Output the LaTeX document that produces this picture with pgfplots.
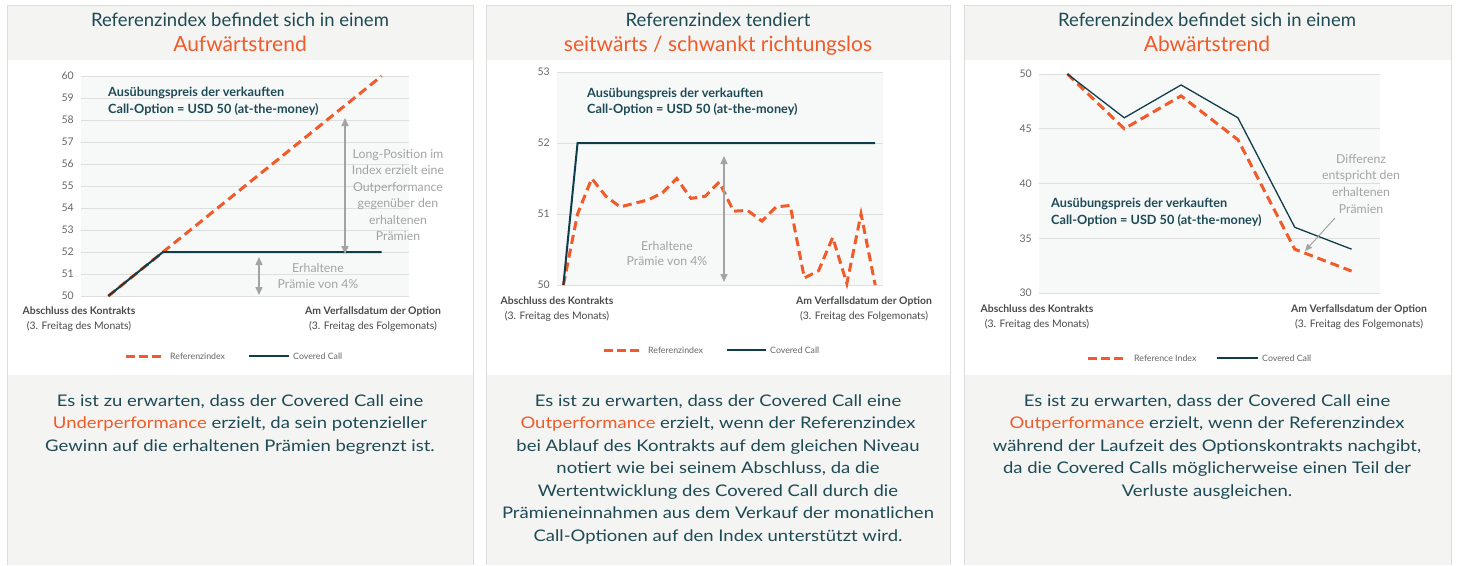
\documentclass[border=0pt]{standalone}
\usepackage{pgfplots}
\pgfplotsset{compat=1.18}
\usetikzlibrary{arrows.meta}
\usepackage{fontspec}
\setmainfont{Lato}
\newfontfamily\bodyfont[FakeStretch=1.155]{Lato}
\definecolor{orng}{HTML}{F15A29}
\definecolor{cteal}{HTML}{0F3D4A}
\definecolor{titlecol}{HTML}{1D4A55}
\definecolor{hdr}{HTML}{F4F4F2}
\definecolor{brd}{HTML}{DCDCDC}
\definecolor{plotbg}{HTML}{F7F9F9}
\definecolor{grd}{HTML}{DEDEDE}
\definecolor{annot}{HTML}{A3A3A3}
\definecolor{lbl}{HTML}{4A4A4A}
\definecolor{tickc}{HTML}{666666}
\newcommand\fs[1]{\fontsize{#1pt}{#1pt}\selectfont}
\pgfplotsset{panel/.style={scale only axis, clip=false, axis line style={draw=none},
  major tick length=0pt, xtick=\empty, ymajorgrids, grid style={grd, line width=0.8pt},
  axis background/.style={fill=plotbg},
  yticklabel style={font=\fs{10.5}, text=tickc, inner sep=0pt, xshift=-7pt},
  /pgf/number format/assume math mode=true, anchor=south west},
  refl/.style={orng, line width=3pt, dash pattern=on 9pt off 5pt},
  ccl/.style={cteal, line width=2pt}}
\begin{document}
\begin{tikzpicture}
\begin{scope}[x=1pt,y=-1pt]
\fill[white] (0,0) rectangle (1459,565);
\foreach \L/\R in {7/473,486/950,964/1451}{
  \fill[hdr] (\L,5) rectangle (\R,60);
  \fill[hdr] (\L,375) rectangle (\R,565);
  \draw[brd, line width=1pt] (\L,565) -- (\L,5) -- (\R,5) -- (\R,565);
}
\end{scope}
% Panel 1
\begin{axis}[panel, at={(81pt,-296pt)}, width=328pt, height=220pt,
  xmin=-1, xmax=11, ymin=50, ymax=60, ytick={50,51,...,60}]
\addplot[refl] coordinates {(0,50) (10,60)};
\addplot[ccl] coordinates {(0,50) (2,52) (10,52)};
\end{axis}
% Panel 2
\begin{axis}[panel, at={(557pt,-285pt)}, width=326pt, height=213pt,
  xmin=-0.45, xmax=22.55, ymin=50, ymax=53, ytick={50,51,52,53}]
\addplot[refl] coordinates {(0,50) (1,51.0) (2,51.5) (3,51.25) (4,51.1) (5,51.15)
  (6,51.2) (7,51.3) (8,51.5) (9,51.22) (10,51.25) (11,51.45) (12,51.04) (13,51.05)
  (14,50.9) (15,51.1) (16,51.12) (17,50.1) (18,50.2) (19,50.67) (20,50.02) (21,51.0) (22,50.0)};
\addplot[ccl] coordinates {(0,50) (1,52) (22,52)};
\end{axis}
% Panel 3
\begin{axis}[panel, at={(1039pt,-293pt)}, width=341pt, height=219pt,
  xmin=-0.5, xmax=5.5, ymin=30, ymax=50, ytick={30,35,40,45,50}]
\addplot[refl] coordinates {(0,50) (1,45) (2,48) (3,44) (4,34) (5,32)};
\addplot[cteal, line width=1.3pt] coordinates {(0,50) (1,46) (2,49) (3,46) (4,36) (5,34)};
\end{axis}
\begin{scope}[x=1pt,y=-1pt]
% titles
\node[anchor=base, text=titlecol, font=\fs{18.5}] at (240,26.5) {Referenzindex befindet sich in einem};
\node[anchor=base, text=orng, font=\fs{21}] at (240,51.5) {Aufwärtstrend};
\node[anchor=base, text=titlecol, font=\fs{18.5}] at (718,26.5) {Referenzindex tendiert};
\node[anchor=base, text=orng, font=\fs{21}] at (718,51.5) {seitwärts / schwankt richtungslos};
\node[anchor=base, text=titlecol, font=\fs{18.5}] at (1207,26.5) {Referenzindex befindet sich in einem};
\node[anchor=base, text=orng, font=\fs{21}] at (1207,51.5) {Abwärtstrend};
% strike annotations
\foreach \x/\a/\b in {108/96/113, 587/97/113, 1051/207/224}{
  \node[anchor=base west, inner sep=0pt, text=titlecol, font=\bfseries\fs{12.7}] at (\x,\a) {Ausübungspreis der verkauften};
  \node[anchor=base west, inner sep=0pt, text=titlecol, font=\bfseries\fs{12.7}] at (\x,\b) {Call-Option = USD 50 (at-the-money)};
}
% x labels
\foreach \c/\a/\b in {79/314/329, 557/304/319, 1037/312/327}{
  \node[anchor=base, inner sep=0pt, text=lbl, font=\bfseries\fs{10.4}] at (\c,\a) {Abschluss des Kontrakts};
  \node[anchor=base, inner sep=0pt, text=lbl, font=\fs{10.4}] at (\c,\b) {(3. Freitag des Monats)};
}
\foreach \c/\a/\b in {373/314/329, 864/304/319, 1359/312/327}{
  \node[anchor=base, inner sep=0pt, text=lbl, font=\bfseries\fs{10.4}] at (\c,\a) {Am Verfallsdatum der Option};
  \node[anchor=base, inner sep=0pt, text=lbl, font=\fs{10.4}] at (\c,\b) {(3. Freitag des Folgemonats)};
}
% legends
\foreach \y/\da/\db/\ta/\sa/\sb/\tb/\nm in {356/126/163/170/249/289/293/Referenzindex, 350/604/642/648/727/766/770/Referenzindex, 358/1088/1127/1134/1217/1258/1262/Reference Index}{
  \draw[orng, line width=3pt, dash pattern=on 9pt off 4pt] (\da,\y) -- (\db,\y);
  \draw[cteal, line width=2pt] (\sa,\y) -- (\sb,\y);
  \node[anchor=west, inner sep=0pt, text=tickc, font=\fs{8.8}] at (\ta,\y) {\nm};
  \node[anchor=west, inner sep=0pt, text=tickc, font=\fs{8.8}] at (\tb,\y) {Covered Call};
}
% gray annotations
\draw[annot, line width=1.5pt, {Triangle[width=7pt,length=8pt]}-{Triangle[width=7pt,length=8pt]}] (345,118) -- (345,254);
\foreach \t [count=\i from 0] in {Long-Position im, Index erzielt eine, Outperformance, gegenüber den, erhaltenen, Prämien}{
  \node[anchor=base, inner sep=0pt, text=annot, font=\fs{12.3}] at (398,158+16.5*\i) {\t};
}
\draw[annot, line width=1.5pt, {Triangle[width=7pt,length=8pt]}-{Triangle[width=7pt,length=8pt]}] (259,257) -- (259,295);
\node[anchor=base, inner sep=0pt, text=annot, font=\fs{12.3}] at (318,272) {Erhaltene};
\node[anchor=base, inner sep=0pt, text=annot, font=\fs{12.3}] at (318,288) {Prämie von 4\%};
\draw[annot, line width=1.5pt, {Triangle[width=7pt,length=8pt]}-{Triangle[width=7pt,length=8pt]}] (724,156) -- (724,282);
\node[anchor=base, inner sep=0pt, text=annot, font=\fs{12.3}] at (667,250) {Erhaltene};
\node[anchor=base, inner sep=0pt, text=annot, font=\fs{12.3}] at (667,265) {Prämie von 4\%};
\draw[annot, line width=1pt, -{Triangle[width=6pt,length=7pt]}] (1335,218) -- (1305,251);
\foreach \t [count=\i from 0] in {Differenz, entspricht den, erhaltenen, Prämien}{
  \node[anchor=base, inner sep=0pt, text=annot, font=\fs{12.3}] at (1361,163+16.7*\i) {\t};
}
% bottom texts
\tikzset{bt/.style={anchor=base, inner sep=0pt, text=titlecol, font=\bodyfont\fs{16}}}
\node[bt] at (240,406) {Es ist zu erwarten, dass der Covered Call eine};
\node[bt] at (240,428.5) {\textcolor{orng}{Underperformance} erzielt, da sein potenzieller};
\node[bt] at (240,451) {Gewinn auf die erhaltenen Prämien begrenzt ist.};
\node[bt] at (718,406) {Es ist zu erwarten, dass der Covered Call eine};
\node[bt] at (718,428.5) {\textcolor{orng}{Outperformance} erzielt, wenn der Referenzindex};
\node[bt] at (718,451) {bei Ablauf des Kontrakts auf dem gleichen Niveau};
\node[bt] at (718,473.5) {notiert wie bei seinem Abschluss, da die};
\node[bt] at (718,496) {Wertentwicklung des Covered Call durch die};
\node[bt] at (718,518.5) {Prämieneinnahmen aus dem Verkauf der monatlichen};
\node[bt] at (718,541) {Call-Optionen auf den Index unterstützt wird.};
\node[bt] at (1207,406) {Es ist zu erwarten, dass der Covered Call eine};
\node[bt] at (1207,428.5) {\textcolor{orng}{Outperformance} erzielt, wenn der Referenzindex};
\node[bt] at (1207,451) {während der Laufzeit des Optionskontrakts nachgibt,};
\node[bt] at (1207,473.5) {da die Covered Calls möglicherweise einen Teil der};
\node[bt] at (1207,496) {Verluste ausgleichen.};
\end{scope}
\end{tikzpicture}
\end{document}
